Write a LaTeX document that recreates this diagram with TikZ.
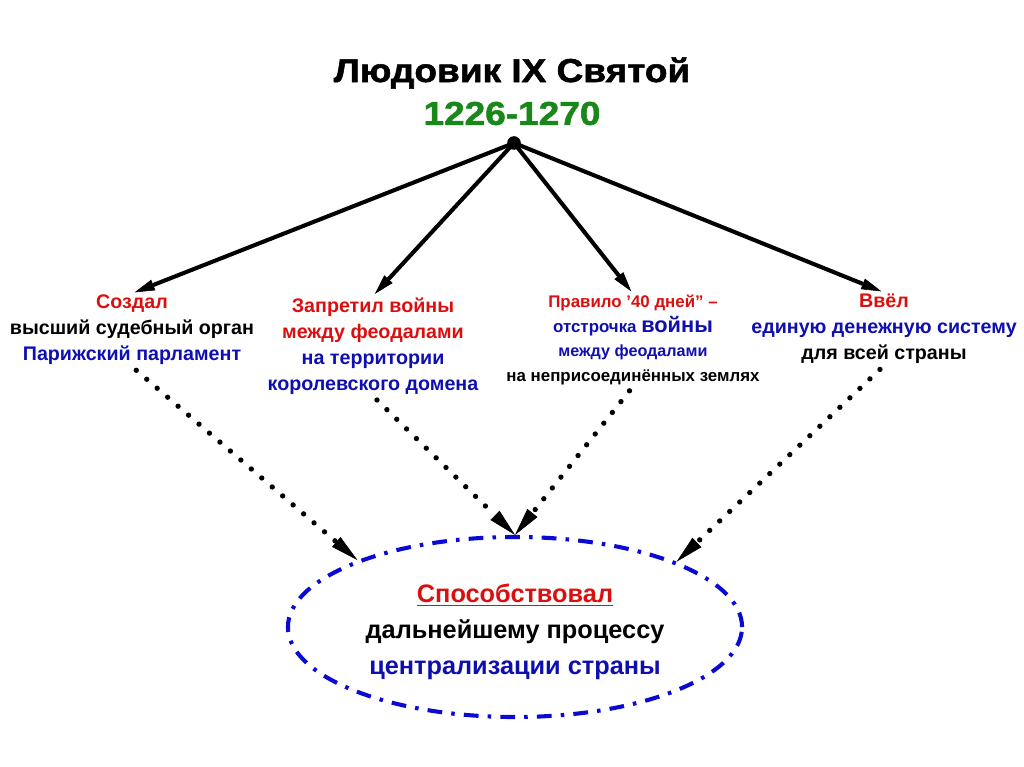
\documentclass[tikz,border=0pt]{standalone}
\usepackage{fontspec}
\setmainfont{Liberation Sans}
\newfontfamily\headfont[FakeStretch=1.12,FakeBold=1.6]{Liberation Sans}
\usetikzlibrary{arrows.meta,positioning,shapes.geometric}
\definecolor{kingred}{RGB}{220,15,15}
\definecolor{kingblue}{RGB}{15,15,175}
\definecolor{kinggreen}{RGB}{25,135,25}
\definecolor{ovalblue}{RGB}{10,10,210}

\begin{document}
\begin{tikzpicture}[
    x=0.025cm,y=-0.025cm,
    head/.style={font=\headfont\fontsize{23.5}{27}\selectfont\bfseries,inner sep=1pt},
    deed/.style={align=center,inner sep=1pt,font=\fontsize{14}{18.5}\selectfont\bfseries},
    link/.style={-{Triangle[length=5mm,width=2.8mm,line width=0.4pt]},line width=2.9pt,shorten >=2pt},
    dots/.style={-{Triangle[length=7mm,width=3.2mm,line width=0.4pt]},line width=3.8pt,
      line cap=round,dash pattern=on 0pt off 9.8pt,shorten <=4pt},
    goalbox/.style={ellipse,draw=ovalblue,line width=2.9pt,
      dash pattern=on 10.5pt off 6.5pt on 2.5pt off 6.5pt,
      minimum width=11.35cm,minimum height=4.5cm,inner sep=0pt,align=center,
      font=\fontsize{18}{25.5}\selectfont\bfseries}
  ]
    \useasboundingbox (0,0) rectangle (1024,767);

    \node[head] (king) at (512,73) {Людовик IX Святой};
    \node[head,text=kinggreen,below=7pt of king] (years) {1226-1270};
    \node[circle,fill,inner sep=0pt,minimum size=0.34cm] (apex) at (514,143) {};

    \node[deed] (court) at (132,330) {\textcolor{kingred}{Создал}\\
      высший судебный орган\\
      \textcolor{kingblue}{Парижский парламент}};
    \node[deed] (peace) at (373,346) {\textcolor{kingred}{Запретил войны}\\
      \textcolor{kingred}{между феодалами}\\
      \textcolor{kingblue}{на территории}\\
      \textcolor{kingblue}{королевского домена}};
    \node[deed,font=\fontsize{12}{17.4}\selectfont\bfseries] (rule) at (633,340) {\textcolor{kingred}{Правило '40 дней" –}\\
      \textcolor{kingblue}{отстрочка {\fontsize{15.5}{17.4}\selectfont войны}}\\
      {\fontsize{11.5}{17.4}\selectfont\textcolor{kingblue}{между феодалами}}\\
      на неприсоединённых землях};
    \node[deed] (coin) at (884,329) {\textcolor{kingred}{Ввёл}\\
      \textcolor{kingblue}{единую денежную систему}\\
      для всей страны};

    \node[goalbox] (goal) at (515,627) {\rule{0pt}{20pt}\textcolor{kingred}{\underline{Способствовал}}\\
      дальнейшему процессу\\
      \textcolor{kingblue}{централизации страны}};

    \draw[link] (apex.center) -- (court.north);
    \draw[link] (apex.center) -- (peace.north);
    \draw[link] (apex.center) -- (rule.north);
    \draw[link] (apex.center) -- (coin.north);

    \draw[dots] (court.south) -- (goal.157);
    \draw[dots] (peace.south) -- (goal.north);
    \draw[dots] (rule.south) -- (goal.north);
    \draw[dots] (coin.south) -- (goal.22);
  \end{tikzpicture}
\end{document}
